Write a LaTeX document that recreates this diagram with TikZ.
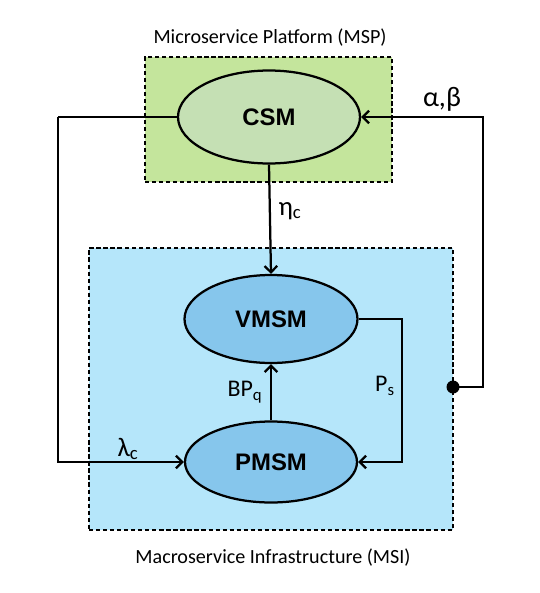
\documentclass[tikz,border=0pt]{standalone}
\usepackage{fontspec}
\setmainfont{Carlito}
\newfontfamily\arialfont{Liberation Sans}
\usetikzlibrary{shapes.geometric,arrows.meta}
\definecolor{mspgreen}{RGB}{196,229,156}
\definecolor{csmgreen}{RGB}{197,224,180}
\definecolor{msiblue}{RGB}{181,230,250}
\definecolor{smblue}{RGB}{134,198,236}
\begin{document}
\begin{tikzpicture}[x=0.025cm,y=-0.025cm,
	model/.style={ellipse,draw,line width=1.6pt,inner sep=0pt,font=\arialfont\fontsize{17}{20}\selectfont\bfseries},
	area/.style={draw,dash pattern=on 3pt off 2pt,line width=0.8pt,inner sep=0pt},
	link/.style={line width=1.6pt,-{Straight Barb[length=4.5pt,width=9pt]}},
	lbl/.style={font=\fontsize{17}{20}\selectfont}]
	\useasboundingbox (0,0) rectangle (540,593);
	\node[area,fill=mspgreen,minimum width=247*0.025cm,minimum height=125*0.025cm] (msp) at (268.5,119.5) {};
	\node[area,fill=msiblue,minimum width=364*0.025cm,minimum height=282*0.025cm] (msi) at (271,389) {};
	\node[font=\fontsize{14.3}{17}\selectfont] (msptext) at (270,38) {Microservice Platform (MSP)};
	\node[font=\fontsize{14.3}{17}\selectfont] (msitext) at (273,558) {Macroservice Infrastructure (MSI)};
	\node[model,fill=csmgreen,minimum width=182*0.025cm,minimum height=93*0.025cm] (csm) at (269,117) {CSM};
	\node[model,fill=smblue,minimum width=173*0.025cm,minimum height=88*0.025cm] (vmsm) at (271,319) {VMSM};
	\node[model,fill=smblue,minimum width=172*0.025cm,minimum height=81*0.025cm] (pmsm) at (271,462) {PMSM};
	\fill (453,387) circle (6.5*0.025cm) coordinate (dot);
	\coordinate (lcorner) at (58,117);
	\coordinate (rcorner) at (483,117);
	\coordinate (vcorner) at (402,319);
	\draw[line width=1.6pt] (csm.west) -- (lcorner);
	\draw[link] (lcorner) |- (pmsm.west);
	\draw[link] (dot) -| (rcorner) -- (csm.east);
	\draw[link] (csm.south) -- (vmsm.north);
	\draw[link] (pmsm.north) -- (vmsm.south);
	\draw[link] (vmsm.east) -- (vcorner) |- (pmsm.east);
	\node[lbl,font=\fontsize{20}{24}\selectfont] (ab) at (442,99) {α,β};
	\node[lbl,font=\fontsize{19}{22}\selectfont] (eta) at (290,211) {η\textsubscript{c}};
	\node[lbl] (bpq) at (245,392) {BP\textsubscript{q}};
	\node[lbl] (ps) at (385,386) {P\textsubscript{s}};
	\node[lbl,font=\fontsize{19}{22}\selectfont] (lambda) at (128,449) {λ\textsubscript{c}};
\end{tikzpicture}
\end{document}
